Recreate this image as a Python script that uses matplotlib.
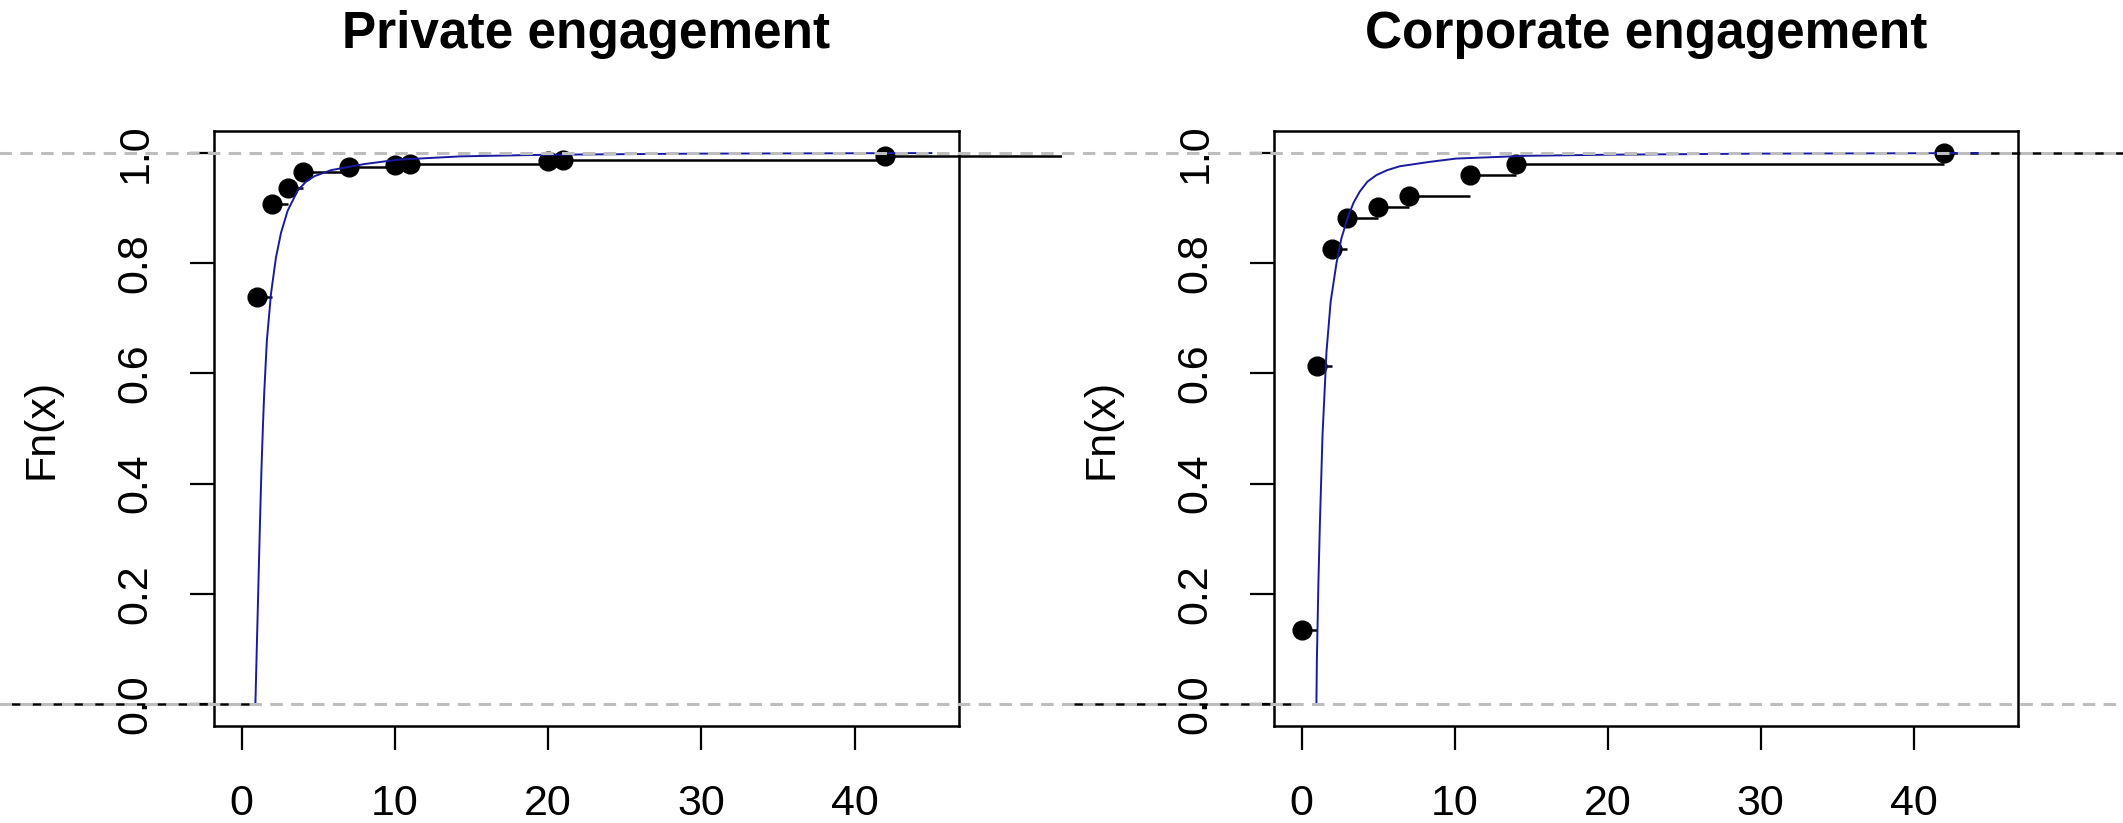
import matplotlib
matplotlib.use('Agg')
import matplotlib.pyplot as plt
from matplotlib.transforms import Bbox, TransformedBbox

plt.rcParams['font.family'] = ['Liberation Sans', 'DejaVu Sans']
plt.rcParams['lines.scale_dashes'] = False

# datos
titulos = ['Private engagement', 'Corporate engagement']

priv_x = [1, 2, 3, 4, 7, 10, 11, 20, 21, 42]
priv_f = [0.739, 0.908, 0.937, 0.965, 0.975, 0.979, 0.981, 0.985, 0.988, 0.995]
corp_x = [0, 1, 2, 3, 5, 7, 11, 14, 42]
corp_f = [0.135, 0.613, 0.825, 0.882, 0.902, 0.922, 0.961, 0.981, 1.0]

# curva ajustada (azul), puntos leidos
priv_fit_x = [0.9, 1.0, 1.1, 1.2, 1.3, 1.4, 1.48, 1.65, 1.92, 2.24, 2.57, 3.0,
              3.66, 4.2, 4.75, 5.84, 8.0, 10.2, 14.3, 20, 30, 45]
priv_fit_f = [0.0, 0.11, 0.22, 0.33, 0.43, 0.51, 0.567, 0.66, 0.745, 0.81, 0.855, 0.895,
              0.932, 0.948, 0.958, 0.969, 0.98, 0.988, 0.994, 0.997, 0.999, 1.0]
corp_fit_x = [0.97, 1.0, 1.1, 1.2, 1.37, 1.63, 1.9, 2.28, 2.6, 3.04, 3.4, 3.8, 4.3,
              4.89, 5.6, 6.41, 8.37, 10.1, 14.7, 20, 30, 45]
corp_fit_f = [0.0, 0.08, 0.22, 0.33, 0.489, 0.64, 0.73, 0.80, 0.845, 0.885, 0.91, 0.93, 0.948,
              0.96, 0.969, 0.976, 0.984, 0.99, 0.995, 0.997, 0.999, 1.0]

x_rango = (0, 45)
y_rango = (0, 1)
x_ticks = [0, 10, 20, 30, 40]
y_ticks = [0.0, 0.2, 0.4, 0.6, 0.8, 1.0]
y_etiquetas = ['0.0', '0.2', '0.4', '0.6', '0.8', '1.0']

fig = plt.figure(figsize=(21.23, 8.23), dpi=100)
ejes = [fig.add_axes([0.1008, 0.1179, 0.3509, 0.7229]),
        fig.add_axes([0.6001, 0.1179, 0.3504, 0.7229])]
mitades = [(0.0, 0.5), (0.5, 1.0)]


def recortar(lineas, mitad):
    caja = TransformedBbox(Bbox([[mitad[0], 0], [mitad[1], 1]]), fig.transFigure)
    for l in lineas:
        l.set_clip_path(None)
        l.set_clip_box(caja)


def panel(ax, mitad, xs, fs, fit_x, fit_f, titulo):
    inicios = [-1000] + xs
    fines = xs + [1000]
    niveles = [0] + fs
    for a, b, nv in zip(inicios, fines, niveles):
        recortar(ax.plot([a, b], [nv, nv], color='black', lw=1.8,
                         solid_capstyle='butt', zorder=3), mitad)
    ax.plot(xs, fs, 'o', color='black', ms=13.5, zorder=4)
    ax.plot(fit_x, fit_f, color='#1a1aa0', lw=1.4, zorder=5)
    for nv in y_rango:
        recortar(ax.plot([-1000, 1000], [nv, nv], color='#bebebe', lw=2.2,
                         dashes=(9, 6), zorder=6), mitad)

    d = 0.04 * (x_rango[1] - x_rango[0])
    ax.set_xlim(x_rango[0] - d, x_rango[1] + d)
    d = 0.04 * (y_rango[1] - y_rango[0])
    ax.set_ylim(y_rango[0] - d, y_rango[1] + d)
    ax.set_xticks(x_ticks)
    ax.set_xticklabels([str(t) for t in x_ticks])
    ax.set_yticks(y_ticks)
    ax.set_yticklabels(y_etiquetas)
    for lbl in ax.get_yticklabels():
        lbl.set_rotation(90)
        lbl.set_va('center')
    ax.tick_params(length=17, width=1.6, pad=25, labelsize=31, colors='black')
    for s in ax.spines.values():
        s.set_linewidth(1.8)
    ax.set_ylabel('Fn(x)', fontsize=31)
    ax.yaxis.set_label_coords(-0.205, 0.5)
    ax.set_title(titulo, fontsize=37, fontweight='bold', pad=60)


panel(ejes[0], mitades[0], priv_x, priv_f, priv_fit_x, priv_fit_f, titulos[0])
panel(ejes[1], mitades[1], corp_x, corp_f, corp_fit_x, corp_fit_f, titulos[1])

fig.savefig('out.png', dpi=100)
